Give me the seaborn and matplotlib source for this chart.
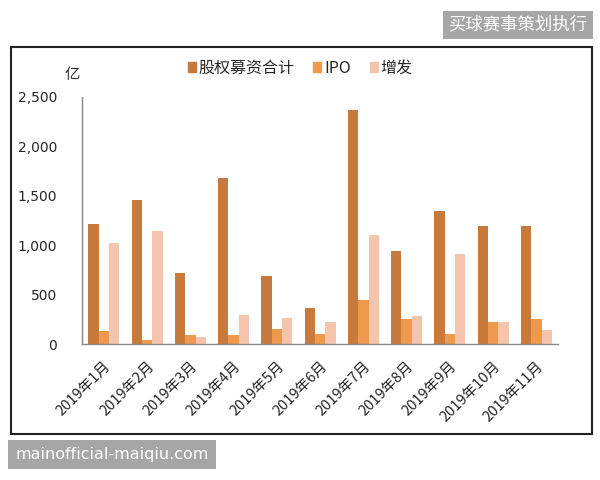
import pandas as pd
import matplotlib.pyplot as plt
import matplotlib.ticker as mticker
import seaborn as sns
from matplotlib.patches import Rectangle

# Chart data (亿元)
months = ['2019年1月', '2019年2月', '2019年3月', '2019年4月', '2019年5月', '2019年6月',
          '2019年7月', '2019年8月', '2019年9月', '2019年10月', '2019年11月']
total_raise = [1215, 1457, 718, 1680, 690, 365, 2370, 940, 1345, 1200, 1200]
ipo = [130, 40, 90, 90, 150, 100, 445, 250, 100, 225, 250]
seo = [1020, 1143, 70, 290, 265, 225, 1105, 285, 910, 225, 140]
series_names = ['股权募资合计', 'IPO', '增发']
colors = ['#C87A3C', '#EE9A4E', '#F5C4AC']

df = pd.DataFrame({'month': months, series_names[0]: total_raise,
                   series_names[1]: ipo, series_names[2]: seo})
long_df = df.melt(id_vars='month', var_name='type', value_name='value')

sns.set_style('white')
cjk = ['Noto Sans CJK SC', 'DejaVu Sans']
plt.rcParams['font.family'] = cjk

fig = plt.figure(figsize=(6, 4.8), dpi=100)
ax = fig.add_axes([0.137, 0.283, 0.793, 0.515])

sns.barplot(data=long_df, x='month', y='value', hue='type', order=months,
            hue_order=series_names, palette=colors, width=0.72, gap=0,
            saturation=1, linewidth=0, ax=ax, legend=False)

ax.set_ylim(0, 2500)
ax.set_xlim(-0.5, len(months) - 0.5)
ax.yaxis.set_major_locator(mticker.MultipleLocator(500))
ax.yaxis.set_major_formatter(mticker.FuncFormatter(lambda v, p: f'{int(v):,}'))
ax.set_xlabel('')
ax.set_ylabel('')

# ticks between categories
ax.set_xticks([i - 0.5 for i in range(len(months) + 1)], minor=True)
ax.tick_params(axis='x', which='major', length=0, pad=11)
ax.tick_params(axis='x', which='minor', length=4, color='#888888', direction='out')
ax.tick_params(axis='y', which='major', length=4, color='#888888', direction='out',
               labelsize=10, pad=14)
ax.set_xticks(range(len(months)))
ax.set_xticklabels(months, rotation=45, ha='right', rotation_mode='anchor', fontsize=10.5)
for lab in ax.get_yticklabels():
    lab.set_family('DejaVu Sans')

for side in ['top', 'right']:
    ax.spines[side].set_visible(False)
for side in ['left', 'bottom']:
    ax.spines[side].set_color('#888888')
    ax.spines[side].set_linewidth(1)

# unit label and legend
fig.text(0.12, 0.845, '亿', fontsize=11, ha='center', va='center', color='#333333')
handles = [Rectangle((0, 0), 1, 1, color=c) for c in colors]
fig.legend(handles, series_names, loc='center', bbox_to_anchor=(0.5, 0.858),
           ncol=3, frameon=False, fontsize=11.5, handlelength=0.5, handleheight=0.5,
           handletextpad=0.15, columnspacing=1.2)

# outer frame
fig.add_artist(Rectangle((0.018, 0.095), 0.968, 0.807, transform=fig.transFigure,
                         fill=False, edgecolor='#222222', linewidth=1.5))

# watermark boxes
fig.text(0.863, 0.948, '买球赛事策划执行', fontsize=12.5, color='white', ha='center',
         va='center', bbox=dict(boxstyle='square,pad=0.3', fc='#A6A6A6', ec='none'))
fig.text(0.187, 0.053, 'mainofficial-maiqiu.com', fontsize=11.5, color='white',
         ha='center', va='center', family='DejaVu Sans',
         bbox=dict(boxstyle='square,pad=0.45', fc='#A6A6A6', ec='none'))

fig.savefig('out.png', dpi=100)
